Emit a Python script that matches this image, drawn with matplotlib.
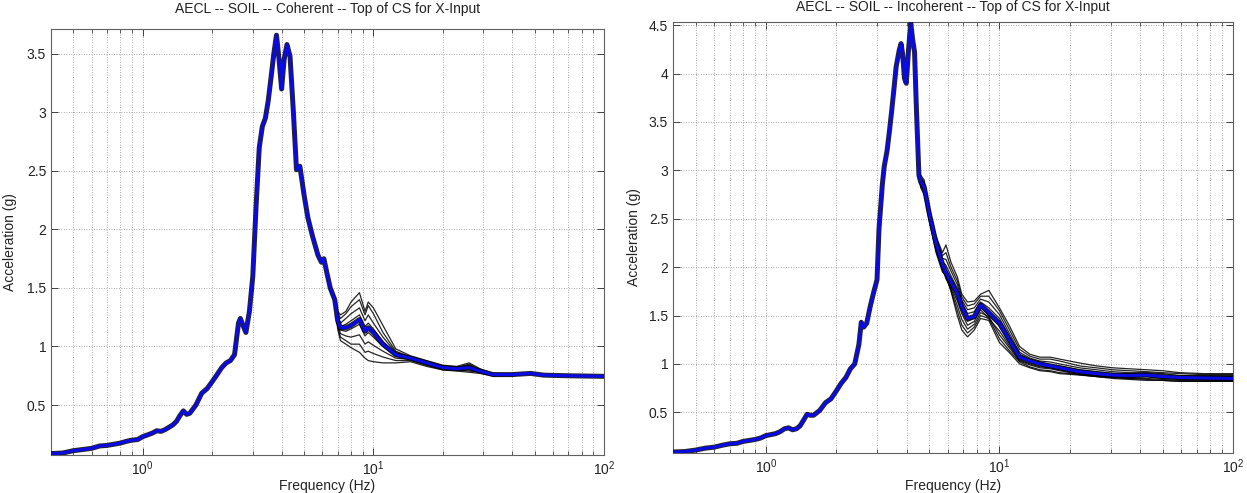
import matplotlib
matplotlib.use('Agg')
import matplotlib.pyplot as plt
from matplotlib.ticker import FixedLocator, FuncFormatter, LogLocator, NullFormatter

plt.rcParams['font.family'] = ['Liberation Sans', 'DejaVu Sans']
plt.rcParams['mathtext.fontset'] = 'custom'
plt.rcParams['mathtext.rm'] = 'Liberation Sans'
plt.rcParams['mathtext.it'] = 'Liberation Sans:italic'

# ---------------- data : left panel (coherent) ----------------
title_left = "AECL -- SOIL -- Coherent -- Top of CS for X-Input"
freq_left = [0.40, 0.45, 0.50, 0.55, 0.60, 0.65, 0.70, 0.75, 0.80, 0.85, 0.90, 0.95,
             1.00, 1.05, 1.10, 1.15, 1.20, 1.25, 1.30, 1.35, 1.40, 1.45, 1.50, 1.55,
             1.60, 1.70, 1.80, 1.90, 2.00, 2.10, 2.20, 2.30, 2.40, 2.50, 2.60, 2.65,
             2.72, 2.80, 2.90, 3.00, 3.10, 3.20, 3.30, 3.40, 3.50, 3.60, 3.70, 3.80,
             3.90, 4.00, 4.10, 4.22, 4.35, 4.50, 4.64, 4.80, 5.00, 5.20, 5.45, 5.75,
             5.95, 6.10, 6.30, 6.50, 6.80, 7.00, 7.20, 7.60, 8.00, 8.70, 9.20, 9.50,
             10.0, 11.0, 12.5, 14.5, 17.0, 20.0, 23.0, 26.0, 29.0, 33.0, 40.0, 48.0,
             55.0, 70.0, 100.0]
mean_left = [0.085, 0.09, 0.11, 0.12, 0.13, 0.15, 0.155, 0.165, 0.175, 0.19, 0.20, 0.205,
             0.23, 0.245, 0.26, 0.28, 0.275, 0.29, 0.31, 0.33, 0.36, 0.41, 0.45, 0.42,
             0.43, 0.50, 0.60, 0.64, 0.70, 0.76, 0.82, 0.86, 0.88, 0.93, 1.20, 1.24,
             1.18, 1.12, 1.30, 1.60, 2.20, 2.70, 2.88, 2.95, 3.10, 3.30, 3.50, 3.66,
             3.45, 3.20, 3.45, 3.58, 3.48, 3.00, 2.51, 2.54, 2.30, 2.10, 1.94, 1.78,
             1.72, 1.75, 1.62, 1.50, 1.40, 1.22, 1.16, 1.16, 1.18, 1.23, 1.13, 1.16,
             1.12, 1.02, 0.93, 0.90, 0.86, 0.82, 0.81, 0.82, 0.79, 0.76, 0.76, 0.77,
             0.755, 0.75, 0.745]
wfreq_left = [6.5, 6.8, 7.0, 7.2, 7.6, 8.0, 8.7, 9.2, 9.5, 10.0, 11.0, 12.5, 14.5,
              17.0, 20.0, 23.0, 26.0, 29.0, 33.0, 40.0]
runs_left = [
    [1.52, 1.42, 1.30, 1.27, 1.30, 1.38, 1.46, 1.30, 1.38, 1.33, 1.18, 0.98, 0.92, 0.88, 0.84, 0.83, 0.86, 0.81, 0.77, 0.765],
    [1.51, 1.41, 1.28, 1.24, 1.28, 1.34, 1.40, 1.27, 1.35, 1.28, 1.12, 0.96, 0.91, 0.87, 0.83, 0.82, 0.85, 0.80, 0.77, 0.76],
    [1.50, 1.41, 1.26, 1.20, 1.24, 1.28, 1.33, 1.22, 1.27, 1.20, 1.08, 0.95, 0.90, 0.86, 0.83, 0.82, 0.84, 0.80, 0.76, 0.76],
    [1.50, 1.40, 1.24, 1.17, 1.19, 1.22, 1.27, 1.17, 1.20, 1.15, 1.04, 0.94, 0.90, 0.86, 0.82, 0.81, 0.83, 0.79, 0.76, 0.76],
    [1.49, 1.40, 1.21, 1.14, 1.13, 1.15, 1.19, 1.09, 1.12, 1.08, 1.00, 0.92, 0.89, 0.85, 0.82, 0.81, 0.81, 0.79, 0.76, 0.76],
    [1.49, 1.39, 1.19, 1.11, 1.09, 1.08, 1.10, 1.02, 1.04, 1.01, 0.96, 0.90, 0.89, 0.85, 0.81, 0.80, 0.80, 0.78, 0.76, 0.755],
    [1.48, 1.39, 1.17, 1.08, 1.05, 1.02, 1.02, 0.95, 0.96, 0.94, 0.91, 0.88, 0.88, 0.84, 0.80, 0.80, 0.79, 0.78, 0.75, 0.755],
    [1.48, 1.38, 1.15, 1.05, 1.02, 0.99, 0.95, 0.90, 0.88, 0.87, 0.86, 0.86, 0.87, 0.83, 0.80, 0.79, 0.78, 0.77, 0.75, 0.75],
]
yticks_left = [0.5, 1.0, 1.5, 2.0, 2.5, 3.0, 3.5]
ylim_left = (0.073, 3.71)

# ---------------- data : right panel (incoherent) ----------------
title_right = "AECL -- SOIL -- Incoherent -- Top of CS for X-Input"
freq_right = [0.40, 0.45, 0.50, 0.55, 0.60, 0.65, 0.70, 0.75, 0.80, 0.85, 0.90, 0.95,
              1.00, 1.05, 1.10, 1.15, 1.20, 1.25, 1.30, 1.35, 1.40, 1.45, 1.50, 1.55,
              1.60, 1.70, 1.80, 1.90, 2.00, 2.10, 2.20, 2.30, 2.40, 2.50, 2.56, 2.62,
              2.70, 2.80, 2.90, 2.99, 3.05, 3.15, 3.21, 3.30, 3.37, 3.45, 3.54, 3.61,
              3.72, 3.79, 3.85, 3.92, 3.99, 4.08, 4.17, 4.25, 4.33, 4.40, 4.45, 4.52,
              4.60, 4.76, 5.00, 5.35, 5.70, 5.90, 6.20, 6.60, 6.90, 7.30, 7.80, 8.30,
              9.00, 10.0, 11.0, 12.2, 13.5, 14.9, 16.5, 18.1, 22.0, 26.0, 30.6, 36.0,
              42.7, 50.0, 59.0, 75.0, 100.0]
mean_right = [0.09, 0.095, 0.11, 0.13, 0.14, 0.16, 0.175, 0.18, 0.20, 0.21, 0.22, 0.235,
              0.26, 0.27, 0.28, 0.30, 0.33, 0.34, 0.32, 0.33, 0.36, 0.42, 0.48, 0.47,
              0.47, 0.52, 0.60, 0.64, 0.72, 0.80, 0.86, 0.95, 1.00, 1.20, 1.43, 1.38,
              1.42, 1.60, 1.75, 1.87, 2.40, 2.85, 3.04, 3.20, 3.38, 3.60, 3.86, 4.07,
              4.24, 4.31, 4.20, 3.95, 3.90, 4.25, 4.52, 4.35, 4.22, 3.70, 3.38, 2.95,
              2.88, 2.83, 2.56, 2.25, 2.03, 1.94, 1.85, 1.73, 1.59, 1.47, 1.49, 1.61,
              1.53, 1.42, 1.25, 1.07, 1.03, 1.00, 0.98, 0.96, 0.92, 0.90, 0.885, 0.88,
              0.885, 0.87, 0.86, 0.855, 0.85]
wfreq_right = [4.52, 4.60, 4.76, 5.00, 5.35, 5.70, 5.90, 6.20, 6.60, 6.90, 7.30, 7.80,
               8.30, 9.00, 10.0, 11.0, 12.2, 13.5, 14.9, 16.5, 18.1, 22.0, 26.0, 30.6,
               36.0, 42.7, 50.0, 59.0, 75.0, 100.0]
runs_right = [
    [2.97, 2.95, 2.90, 2.62, 2.32, 2.15, 2.23, 2.05, 1.90, 1.72, 1.64, 1.65, 1.72, 1.76, 1.58, 1.40, 1.18, 1.10, 1.07, 1.07, 1.05, 1.01, 0.98, 0.96, 0.95, 0.94, 0.93, 0.91, 0.90, 0.90],
    [2.96, 2.93, 2.88, 2.60, 2.30, 2.12, 2.15, 2.00, 1.86, 1.69, 1.60, 1.62, 1.70, 1.70, 1.55, 1.36, 1.15, 1.08, 1.05, 1.05, 1.03, 0.98, 0.96, 0.94, 0.93, 0.92, 0.91, 0.90, 0.89, 0.89],
    [2.96, 2.91, 2.86, 2.59, 2.29, 2.09, 2.08, 1.96, 1.82, 1.66, 1.56, 1.58, 1.67, 1.64, 1.51, 1.32, 1.12, 1.06, 1.03, 1.02, 1.00, 0.96, 0.94, 0.92, 0.91, 0.91, 0.90, 0.88, 0.88, 0.88],
    [2.95, 2.90, 2.85, 2.57, 2.27, 2.06, 2.02, 1.91, 1.78, 1.63, 1.52, 1.54, 1.64, 1.58, 1.47, 1.29, 1.10, 1.05, 1.02, 0.99, 0.98, 0.94, 0.92, 0.90, 0.90, 0.90, 0.88, 0.87, 0.87, 0.87],
    [2.95, 2.89, 2.84, 2.56, 2.26, 2.04, 1.97, 1.87, 1.75, 1.60, 1.48, 1.50, 1.62, 1.54, 1.43, 1.26, 1.08, 1.04, 1.01, 0.98, 0.96, 0.92, 0.90, 0.89, 0.88, 0.89, 0.87, 0.86, 0.86, 0.86],
    [2.94, 2.88, 2.82, 2.55, 2.24, 2.02, 1.93, 1.83, 1.70, 1.56, 1.44, 1.47, 1.59, 1.50, 1.39, 1.22, 1.06, 1.02, 0.99, 0.97, 0.95, 0.91, 0.89, 0.88, 0.87, 0.88, 0.86, 0.85, 0.85, 0.84],
    [2.94, 2.86, 2.80, 2.53, 2.22, 2.00, 1.90, 1.80, 1.65, 1.52, 1.40, 1.44, 1.56, 1.47, 1.34, 1.19, 1.04, 1.00, 0.97, 0.96, 0.94, 0.90, 0.88, 0.87, 0.86, 0.87, 0.85, 0.84, 0.84, 0.83],
    [2.93, 2.85, 2.79, 2.52, 2.20, 1.99, 1.88, 1.78, 1.60, 1.46, 1.36, 1.41, 1.53, 1.49, 1.30, 1.17, 1.03, 0.99, 0.96, 0.95, 0.93, 0.89, 0.87, 0.86, 0.85, 0.85, 0.84, 0.83, 0.83, 0.83],
    [2.93, 2.84, 2.77, 2.50, 2.17, 1.97, 1.90, 1.76, 1.55, 1.40, 1.32, 1.38, 1.50, 1.47, 1.26, 1.14, 1.02, 0.97, 0.94, 0.93, 0.91, 0.89, 0.87, 0.86, 0.85, 0.84, 0.83, 0.82, 0.82, 0.82],
    [2.92, 2.82, 2.75, 2.48, 2.15, 1.95, 1.92, 1.75, 1.50, 1.35, 1.28, 1.35, 1.47, 1.45, 1.22, 1.12, 1.00, 0.96, 0.93, 0.92, 0.90, 0.885, 0.87, 0.85, 0.84, 0.83, 0.83, 0.82, 0.82, 0.82],
]
yticks_right = [0.5, 1.0, 1.5, 2.0, 2.5, 3.0, 3.5, 4.0, 4.5]
ylim_right = (0.083, 4.53)

xlim = (0.4, 100.0)
xlabel = "Frequency (Hz)"
ylabel = "Acceleration (g)"


def splice(freq, mean, wf, wv):
    f = [x for x in freq if x < wf[0]] + list(wf) + [x for x in freq if x > wf[-1]]
    v = ([m for x, m in zip(freq, mean) if x < wf[0]] + list(wv)
         + [m for x, m in zip(freq, mean) if x > wf[-1]])
    return f, v


fig = plt.figure(figsize=(12.47, 4.93), dpi=100)

panels = [
    dict(rect=[51 / 1247, 1 - 455 / 493, 553 / 1247, 425.7 / 493], title=title_left,
         tx=327.5, ty=9, freq=freq_left, mean=mean_left, wf=wfreq_left, runs=runs_left,
         yticks=yticks_left, ylim=ylim_left, ylx=-0.062, xly=-0.057),
    dict(rect=[673 / 1247, 1 - 452.7 / 493, 560 / 1247, 430.4 / 493], title=title_right,
         tx=953, ty=7, freq=freq_right, mean=mean_right, wf=wfreq_right, runs=runs_right,
         yticks=yticks_right, ylim=ylim_right, ylx=-0.058, xly=-0.062),
]

grid_kw = dict(color='#909090', linestyle=(0, (1, 2)), linewidth=0.6)

for p in panels:
    ax = fig.add_axes(p['rect'])
    # dark outline that the bundle of runs forms around the mean
    ax.plot(p['freq'], p['mean'], color='black', linewidth=3.6, alpha=0.85, zorder=3,
            solid_joinstyle='round')
    for run in p['runs']:
        f, v = splice(p['freq'], p['mean'], p['wf'], run)
        ax.plot(f, v, color='black', linewidth=0.9, alpha=0.85, zorder=3)
    ax.plot(p['freq'], p['mean'], color='#0a0ae6', linewidth=2.2, zorder=4,
            solid_joinstyle='round')
    ax.set_xscale('log')
    ax.set_xlim(*xlim)
    ax.set_ylim(*p['ylim'])
    ax.yaxis.set_major_locator(FixedLocator(p['yticks']))
    ax.yaxis.set_major_formatter(FuncFormatter(lambda v, pos: '%g' % v))
    ax.xaxis.set_major_locator(LogLocator(base=10, numticks=10))
    ax.xaxis.set_minor_locator(LogLocator(base=10, subs=range(2, 10), numticks=20))
    ax.xaxis.set_minor_formatter(NullFormatter())
    ax.grid(True, which='major', axis='both', **grid_kw)
    ax.grid(True, which='minor', axis='x', **grid_kw)
    ax.set_axisbelow(True)
    ax.tick_params(which='both', direction='in', top=True, right=True,
                   labelsize=10, colors='#404040', labelcolor='#222222')
    ax.tick_params(which='major', length=5, width=0.7)
    ax.tick_params(which='minor', length=3, width=0.6)
    for s in ax.spines.values():
        s.set_color('#606060')
        s.set_linewidth(0.8)
    ax.set_xlabel(xlabel, fontsize=10, color='#222222')
    ax.set_ylabel(ylabel, fontsize=10, color='#222222')
    ax.xaxis.set_label_coords(0.5, p['xly'])
    ax.yaxis.set_label_coords(p['ylx'], 0.5)
    fig.text(p['tx'] / 1247, 1 - p['ty'] / 493, p['title'], ha='center', va='center',
             fontsize=10, color='#222222')

fig.savefig('out.png', dpi=100)
